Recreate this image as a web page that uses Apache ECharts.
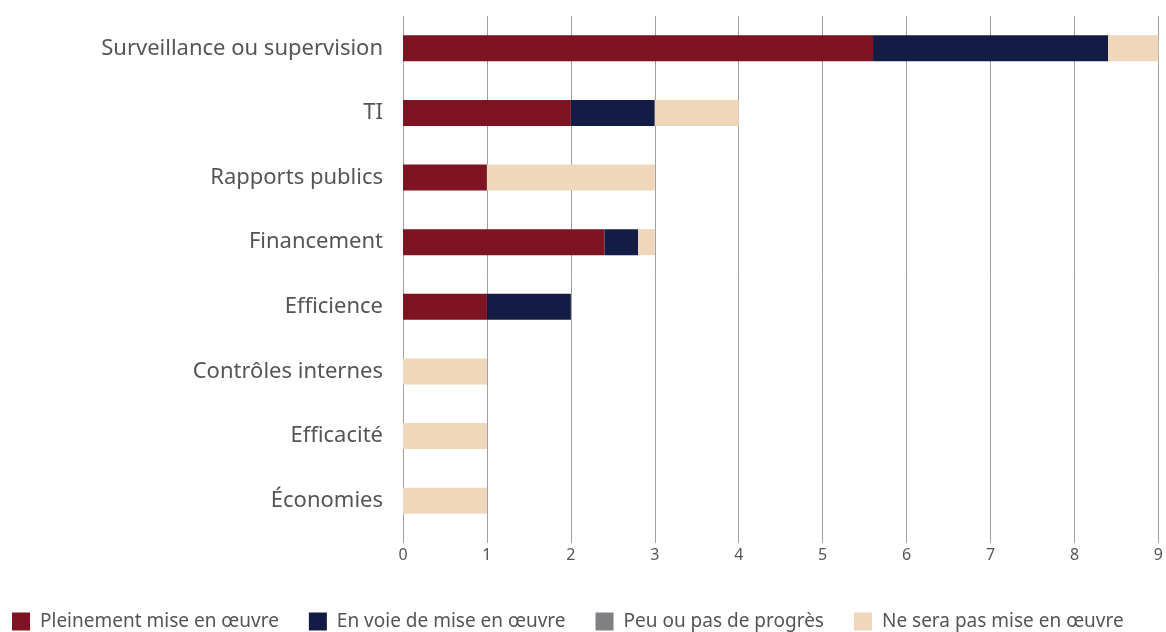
<!DOCTYPE html>
<html><head><meta charset="utf-8">
<script src="https://cdn.jsdelivr.net/npm/echarts@6/dist/echarts.min.js"></script>
<style>html,body{margin:0;padding:0;background:#fff}#c{width:1166px;height:632px}</style>
</head><body><div id="c"></div>
<script>
const categories = ["Surveillance ou supervision","TI","Rapports publics","Financement","Efficience","Contrôles internes","Efficacité","Économies"];
const seriesNames = ["Pleinement mise en œuvre","En voie de mise en œuvre","Peu ou pas de progrès","Ne sera pas mise en œuvre"];
const pleinement = [5.6,2,1,2.4,1,0,0,0];
const enVoie = [2.8,1,0,0.4,1,0,0,0];
const peu = [0,0,0,0,0,0,0,0];
const neSera = [0.6,1,2,0.2,0,1,1,1];
const colors = ["#7e1322","#131c45","#808083","#f0d7bc"];
const xTicks = [0,1,2,3,4,5,6,7,8,9];

const chart = echarts.init(document.getElementById('c'));
const data = [pleinement, enVoie, peu, neSera];
chart.setOption({
  animation:false,
  grid:{left:403,right:4,top:16,bottom:99,containLabel:false},
  legend:{left:7,top:607,itemWidth:18,itemHeight:18,itemGap:30,icon:'rect',
    textStyle:{fontFamily:'Noto Sans',fontSize:19,color:'#555',padding:[0,0,0,5]},
    data:seriesNames},
  xAxis:{type:'value',min:xTicks[0],max:xTicks[xTicks.length-1],interval:1,
    axisLine:{show:false},
    axisTick:{show:true,length:10,lineStyle:{color:'#a0a0a0'}},
    splitLine:{show:true,lineStyle:{color:'#a0a0a0',width:1}},
    axisLabel:{margin:14,fontFamily:'Noto Sans',fontSize:16,color:'#555'}},
  yAxis:{type:'category',data:categories,inverse:true,
    axisLine:{show:false},axisTick:{show:false},
    axisLabel:{margin:20,fontFamily:'Noto Sans',fontSize:22,color:'#555'}},
  series: seriesNames.map((n,i)=>({name:n,type:'bar',stack:'s',barWidth:26,
    itemStyle:{color:colors[i]},data:data[i]}))
});
</script></body></html>
